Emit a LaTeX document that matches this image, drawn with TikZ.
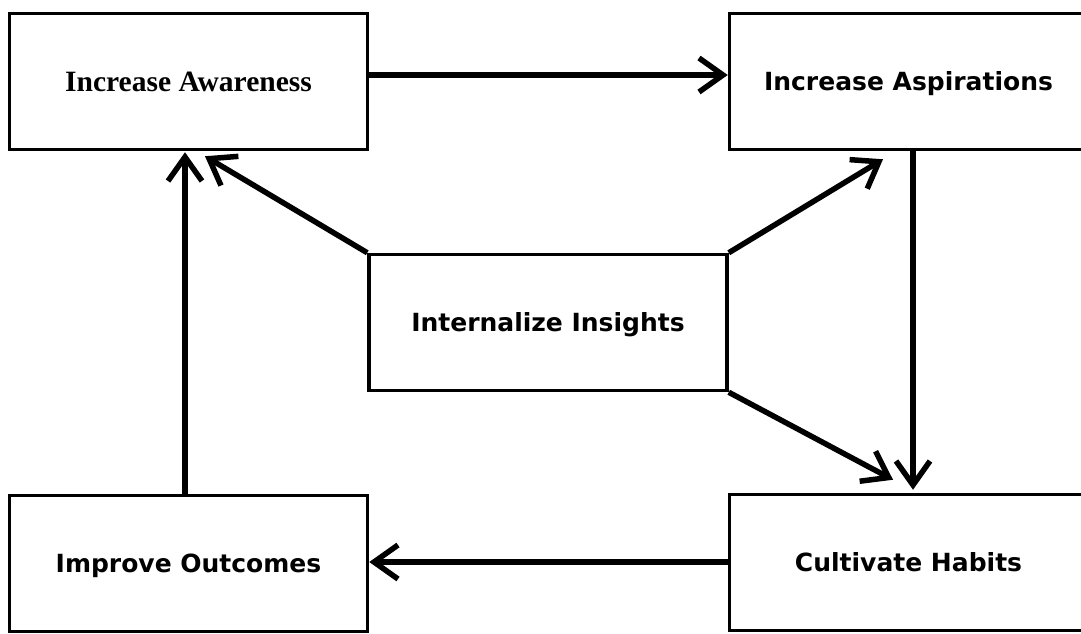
\documentclass[tikz,border=0pt]{standalone}
\usepackage{fontspec}
\setmainfont{Liberation Serif}
\newfontfamily\boxsans{DejaVu Sans}
\usetikzlibrary{arrows.meta}
\begin{document}
\begin{tikzpicture}[x=1pt,y=-1pt,
  box/.style={draw=black,line width=3.5pt,rectangle,minimum width=358pt,minimum height=136pt,inner sep=0pt,fill=white},
  sanslabel/.style={font=\boxsans\bfseries\fontsize{25}{28}\selectfont,text height=18pt,text depth=0pt},
  seriflabel/.style={font=\bfseries\fontsize{29.5}{33}\selectfont,text height=19.5pt,text depth=0pt},
  conn/.style={line width=5.5pt,-{Straight Barb[length=24pt,width=34pt]}}
]
\path[use as bounding box,fill=white] (0,0) rectangle (1081,633);
\begin{scope}
\clip (0,0) rectangle (1081,633);
\node[box,seriflabel] (aw) at (188.5,81.5) {Increase Awareness};
\node[box,sanslabel] (asp) at (908.5,81.5) {Increase Aspirations};
\node[box,sanslabel] (int) at (548,322.5) {Internalize Insights};
\node[box,sanslabel] (out) at (188.5,563.5) {Improve Outcomes};
\node[box,sanslabel] (cul) at (908.5,562.5) {Cultivate Habits};

\draw[conn] ([yshift=6.5pt]aw.east) -- ([yshift=6.5pt]asp.west);
\draw[conn] ([xshift=4.5pt]asp.south) -- ([xshift=4.5pt,yshift=3pt]cul.north);
\draw[conn] (int.north east) -- ([xshift=-25.5pt,yshift=-8pt]asp.south);
\draw[conn] (int.north west) -- ([xshift=16.5pt,yshift=-5pt]aw.south);
\draw[conn] ([xshift=-3.5pt]out.north) -- ([xshift=-3.5pt,yshift=-1pt]aw.south);
\draw[conn] (int.south east) -- ([xshift=-15.5pt,yshift=13pt]cul.north);
\draw[conn] ([yshift=0.5pt]cul.west) -- ([yshift=1.5pt]out.east);
\end{scope}
\end{tikzpicture}
\end{document}
